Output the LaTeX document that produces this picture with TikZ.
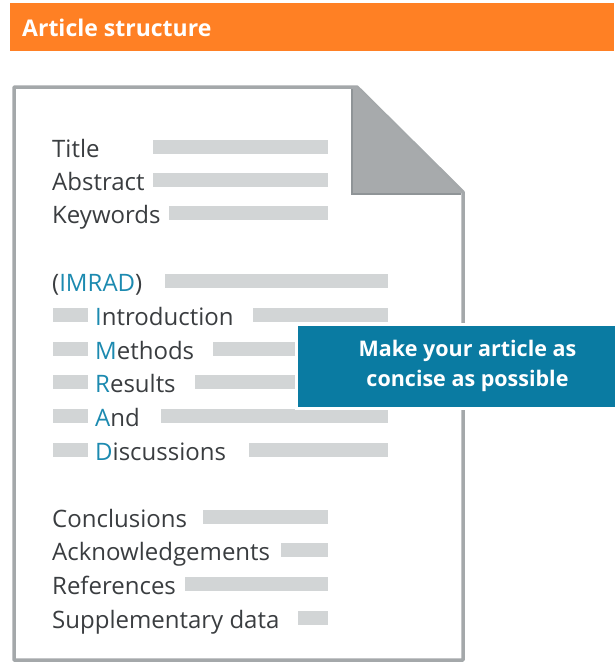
\documentclass[tikz,border=0pt]{standalone}
\usepackage{fontspec}
\setmainfont{Open Sans}
\usetikzlibrary{positioning}
\definecolor{headorange}{HTML}{FF8024}
\definecolor{pagegray}{HTML}{A4A8AA}
\definecolor{foldgray}{HTML}{A7AAAC}
\definecolor{folddark}{HTML}{8F9497}
\definecolor{bargray}{HTML}{D2D5D6}
\definecolor{textgray}{HTML}{3A3D40}
\definecolor{imradblue}{HTML}{1C8AB0}
\definecolor{boxblue}{HTML}{0A7BA2}

\begin{document}
\begin{tikzpicture}[x=1pt,y=-1pt,
    lbl/.style={anchor=base west,inner sep=0pt,text=textgray,font=\fontsize{24}{28}\selectfont},
    bar/.style={fill=bargray,anchor=west,inner sep=0pt,minimum height=14pt},
    callout/.style={fill=boxblue,draw=white,line width=3pt,anchor=west,minimum width=322pt,minimum height=84pt}]
    \useasboundingbox (0,0) rectangle (614,662);

    % header
    \node [fill=headorange,anchor=north west,minimum width=604pt,minimum height=48pt,inner sep=0pt] (header) at (10,3) {};
    \node [anchor=base west,inner sep=0pt,text=white,font=\bfseries\fontsize{23}{26}\selectfont] (headtitle) at (22,36) {Article structure};

    % page with folded corner
    \draw [pagegray,line width=3.5pt,line join=round] (14,87) -- (357,87) -- (463,192) -- (463,660) -- (14,660) -- cycle;
    \fill [foldgray] (352,87) -- (357,87) -- (462,193) -- (352,193) -- cycle;
    \draw [folddark,line width=2pt] (352,89) -- (352,194) -- (461,194);

    % front and back matter
    \foreach \txt/\yb/\bx/\ex [count=\i] in {Title/157/153/328,Abstract/190/153/328,Keywords/223/169/328,
            Conclusions/527/203/328,Acknowledgements/560/281/328,References/594/185/328,Supplementary data/628/298/328}
        {
        \node [lbl] (part\i) at (52,\yb) {\txt};
        \node [bar,minimum width={(\ex-\bx)*1pt}] (partbar\i) at (\bx,\yb-10) {};
        }

    % IMRAD
    \node [lbl] (imrad) at (52,291) {(\textcolor{imradblue}{IMRAD})};
    \node [bar,minimum width=223pt] (imradbar) at (165,281) {};
    \foreach \first/\rest/\yb/\bx [count=\i] in {I/ntroduction/325/253,M/ethods/359/213,R/esults/392/195,A/nd/426/161,D/iscussions/460/249}
        {
        \node [bar,minimum width=35pt] (indent\i) at (53,\yb-10) {};
        \node [lbl] (sec\i) at (95,\yb) {\textcolor{imradblue}{\first}\rest};
        \node [bar,minimum width={(388-\bx)*1pt}] (secbar\i) at (\bx,\yb-10) {};
        }

    % call-out
    \node [callout] (concisebox) at (295,366) {};
    \node [text=white,align=center,font=\bfseries\fontsize{21.5}{30}\selectfont,right=10pt of concisebox.center,anchor=center] (concise) {Make your article as\\concise as possible};
\end{tikzpicture}
\end{document}
